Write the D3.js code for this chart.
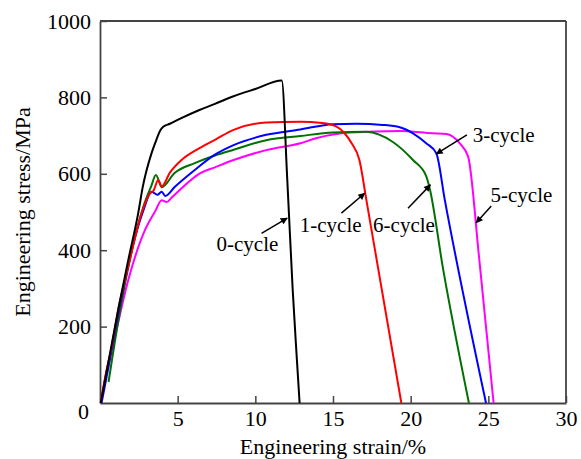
<!DOCTYPE html>
<html>
<head>
<meta charset="utf-8">
<script src="https://cdn.jsdelivr.net/npm/d3@7"></script>
<style>
    body { margin: 0; background: #fff; }
    svg { display: block; font-family: "Liberation Serif", "Times New Roman", serif; }
</style>
</head>
<body>
<script>
// strain (%) / stress (MPa)
var cycle0 = [[0.05,0],[0.6,120],[1.2,250],[1.82,374],[2.46,497],[2.75,565],[3.32,654],[3.64,690],[3.86,712],[4.07,723],[4.5,731],[5.2,745],[6.4,767],[7.4,783],[8.6,803],[10,822],[11.7,844],[12.05,590],[12.4,300],[12.65,130],[12.85,0]];
var cycle1 = [[0.05,0],[0.3,60],[0.75,147],[1.2,250],[1.82,357],[2.68,497],[3.2,548],[3.45,556],[3.75,584],[3.97,567],[4.5,603],[5.25,636],[6.4,667],[7.4,689],[8.6,715],[10.7,734],[12.9,736],[14.3,733],[15.2,724],[15.7,708],[16.2,680],[16.7,636],[17.15,531],[19.4,0]];
var cycle3 = [[0.1,0],[0.6,105],[1.3,260],[2.1,410],[2.8,505],[3.32,553],[3.7,545],[3.97,553],[4.2,542],[4.82,566],[6.1,610],[7.4,650],[8.6,675],[10.7,702],[12.9,716],[15,730],[16.5,731],[18.2,728],[19.3,722],[20.15,706],[21,680],[21.65,654],[22.2,531],[24.85,0]];
var cycle5 = [[0.05,0],[0.4,80],[0.96,174],[1.82,322],[2.9,453],[3.54,501],[3.97,531],[4.29,526],[4.6,537],[5.25,562],[6.43,601],[7.4,617],[8.6,636],[10.7,662],[12.9,680],[13.9,693],[16.1,708],[19.3,712],[21.4,706],[22.3,704],[23.15,680],[23.7,645],[24.4,383],[25.34,0]];
var cycle6 = [[0.55,55],[1.2,220],[2,390],[2.8,515],[3.3,568],[3.6,597],[3.97,565],[4.8,602],[6.1,628],[7.4,648],[8.6,663],[10.7,688],[12.9,699],[15,708],[17.15,710],[18.9,682],[20.15,636],[21,594],[21.2,566],[22.1,348],[23.75,0]];

var seriesNames = ["0-cycle", "1-cycle", "3-cycle", "5-cycle", "6-cycle"];
var seriesData = [cycle0, cycle1, cycle3, cycle5, cycle6];
var seriesColors = ["#000000", "#ff0000", "#0000ff", "#ff00ff", "#007000"];

var xTicks = [5, 10, 15, 20, 25, 30];
var yTicks = [200, 400, 600, 800, 1000];

// label position (strain, stress) and arrow from -> to
var labelText = ["0-cycle", "1-cycle", "6-cycle", "3-cycle", "5-cycle"];
var labelPos = [[7.5,398],[12.86,448],[17.58,448],[24.0,684],[25.14,527]];
var arrowFrom = [[10.4,444],[15.54,497],[19.83,510],[23.62,702],[25.19,516]];
var arrowTo = [[12.05,484],[17.04,549],[21.27,571],[21.65,652],[24.22,472]];

var W = 581, H = 459;
var margin = {top: 21, right: 15, bottom: 56, left: 100};
var width = W - margin.left - margin.right;
var height = H - margin.top - margin.bottom;

var svg = d3.select("body").append("svg").attr("width", W).attr("height", H);

var defs = svg.append("defs");
defs.append("marker")
    .attr("id", "arrow")
    .attr("viewBox", "0 0 10 10")
    .attr("refX", 9).attr("refY", 5)
    .attr("markerWidth", 9).attr("markerHeight", 7)
    .attr("markerUnits", "userSpaceOnUse")
    .attr("orient", "auto")
    .append("path").attr("d", "M0,0L10,5L0,10z").attr("fill", "#000");

var g = svg.append("g").attr("transform", "translate(" + margin.left + "," + margin.top + ")");

var x = d3.scaleLinear().domain([0, 30]).range([0, width]);
var y = d3.scaleLinear().domain([0, 1000]).range([height, 0]);

var axisColor = "#444";

// axes, ticks pointing inward
var xAxis = g.append("g").attr("transform", "translate(0," + height + ")")
    .call(d3.axisBottom(x).tickValues(xTicks).tickSizeInner(-7).tickSizeOuter(0).tickPadding(10));
var yAxis = g.append("g")
    .call(d3.axisLeft(y).tickValues(yTicks).tickSizeInner(-7).tickSizeOuter(0).tickPadding(16).tickFormat(d3.format("d")));

[xAxis, yAxis].forEach(function(a) {
    a.select(".domain").attr("stroke", axisColor).attr("stroke-width", 1.8);
    a.selectAll(".tick line").attr("stroke", axisColor).attr("stroke-width", 1.5);
    a.selectAll(".tick text").attr("fill", "#000").attr("font-size", 22)
        .attr("font-family", "Liberation Serif, Times New Roman, serif");
});
yAxis.selectAll(".tick text").attr("x", -9);
xAxis.selectAll(".tick text").attr("dy", "0.6em");

// origin label
g.append("text").attr("x", -11).attr("y", height + 8).attr("dy", "0.35em")
    .attr("text-anchor", "end").attr("font-size", 22).text("0");

// frame top / right
g.append("line").attr("x1", 0).attr("x2", width).attr("y1", 0).attr("y2", 0)
    .attr("stroke", axisColor).attr("stroke-width", 1.8);
g.append("line").attr("x1", width).attr("x2", width).attr("y1", 0).attr("y2", height)
    .attr("stroke", axisColor).attr("stroke-width", 1.8);

var line = d3.line()
    .x(function(d) { return x(d[0]); })
    .y(function(d) { return y(d[1]); })
    .curve(d3.curveMonotoneX);

// draw order: magenta, green, blue, red, black
[3, 4, 2, 1, 0].forEach(function(i) {
    g.append("path")
        .datum(seriesData[i])
        .attr("class", "curve " + seriesNames[i])
        .attr("d", line)
        .attr("fill", "none")
        .attr("stroke", seriesColors[i])
        .attr("stroke-width", 2)
        .attr("stroke-linejoin", "round");
});

// annotations
labelText.forEach(function(t, i) {
    g.append("line")
        .attr("x1", x(arrowFrom[i][0])).attr("y1", y(arrowFrom[i][1]))
        .attr("x2", x(arrowTo[i][0])).attr("y2", y(arrowTo[i][1]))
        .attr("stroke", "#000").attr("stroke-width", 1.5)
        .attr("marker-end", "url(#arrow)");
    g.append("text")
        .attr("x", x(labelPos[i][0])).attr("y", y(labelPos[i][1]))
        .attr("font-size", 21)
        .text(t);
});

// axis titles
svg.append("text")
    .attr("x", margin.left + width / 2).attr("y", 454)
    .attr("text-anchor", "middle").attr("font-size", 22)
    .text("Engineering strain/%");

svg.append("text")
    .attr("transform", "translate(30," + (margin.top + height / 2) + ")rotate(-90)")
    .attr("text-anchor", "middle").attr("font-size", 22)
    .text("Engineering stress/MPa");
</script>
</body>
</html>
